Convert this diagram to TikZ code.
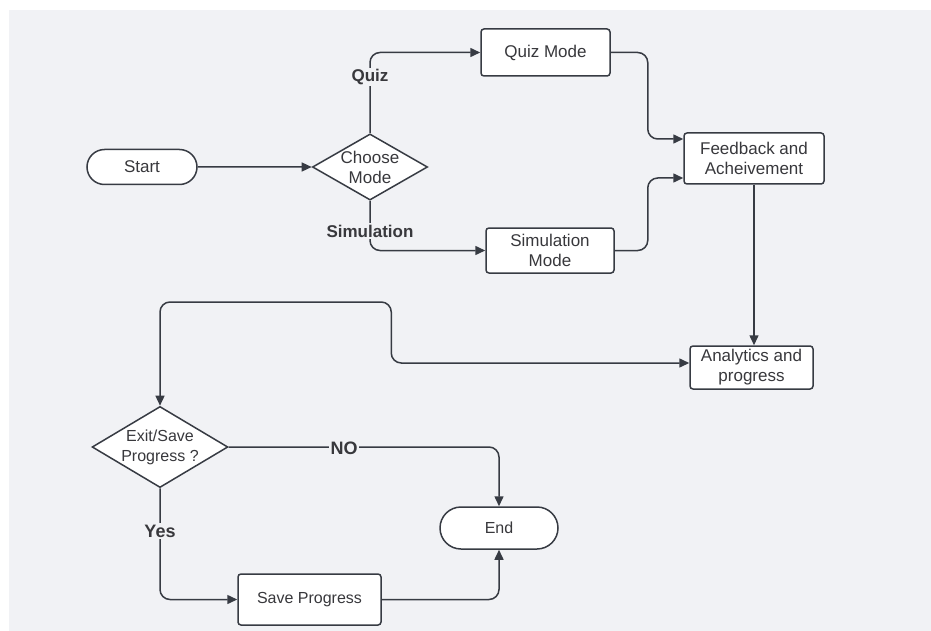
\documentclass[tikz,border=0pt]{standalone}
\usepackage{fontspec}
\setmainfont{Liberation Sans}
\usetikzlibrary{shapes.geometric,shapes.misc,arrows.meta}
\definecolor{bg}{RGB}{241,242,245}
\definecolor{ln}{RGB}{55,59,67}
\definecolor{tx}{RGB}{56,56,60}
\begin{document}
\begin{tikzpicture}[x=1pt,y=-1pt,
  base/.style={draw=ln, line width=1.5pt, fill=white, text=tx,
    font=\fontsize{17}{20}\selectfont, align=center, inner sep=0pt},
  box/.style={base, rectangle, rounded corners=3pt},
  term/.style={base, rounded rectangle},
  dec/.style={base, diamond},
  arr/.style={draw=ln, line width=1.5pt, -{Triangle[length=10pt,width=9pt]}, rounded corners=10pt},
  darr/.style={draw=ln, line width=1.5pt, {Triangle[length=10pt,width=9pt]}-{Triangle[length=10pt,width=9pt]}, rounded corners=10pt},
  lbl/.style={fill=bg, text=tx, font=\bfseries\fontsize{17}{20}\selectfont, inner sep=1.5pt}]
\fill[white] (0,0) rectangle (931,631);
\fill[bg] (9,10) rectangle (931,631);
\useasboundingbox (0,0) rectangle (931,631);

\node[term, minimum width=110, minimum height=35] (start) at (142,167) {Start};
\node[dec, minimum width=115, minimum height=66, aspect=1.74] (choose) at (370,167) {Choose\\Mode};
\node[box, minimum width=129, minimum height=47] (quiz) at (545.5,52.5) {Quiz Mode};
\node[box, minimum width=128, minimum height=45] (sim) at (550,250.5) {Simulation\\Mode};
\node[box, minimum width=140, minimum height=51] (fb) at (754,158.5) {Feedback and\\Acheivement};
\node[box, minimum width=123, minimum height=43] (an) at (751.5,367.5) {Analytics and\\progress};
\node[dec, minimum width=134, minimum height=80, aspect=1.675, font=\fontsize{16}{20}\selectfont] (exit) at (160,447) {Exit/Save\\Progress ?};
\node[term, minimum width=118, minimum height=42, font=\fontsize{16}{20}\selectfont] (end) at (499,528) {End};
\node[box, minimum width=143, minimum height=51, font=\fontsize{16}{20}\selectfont] (save) at (309.5,599.5) {Save Progress};

\draw[arr] (start) -- (choose);
\draw[arr] (choose.north) |- (quiz.west);
\draw[arr] (choose.south) |- (sim.west);
\draw[arr] (quiz.east) -- ++(37,0) |- ([yshift=19.5pt]fb.west);
\draw[arr] (sim.east) -- ++(33,0) |- ([yshift=-19.5pt]fb.west);
\draw[arr] (fb.south) -- (fb.south |- an.north);
\draw[darr] ([yshift=4.5pt]an.west) -- ++(-298,0) -- ++(0,-61) -| (exit.north);
\draw[arr] (exit.east) -| (end.north);
\draw[arr] (exit.south) |- (save.west);
\draw[arr] (save.east) -| (end.south);

\node[lbl] (lquiz) at (370,77) {Quiz};
\node[lbl] (lsim) at (370,231) {Simulation};
\node[lbl, font=\bfseries\fontsize{18}{20}\selectfont] (lno) at (344,448) {NO};
\node[lbl, font=\bfseries\fontsize{18}{20}\selectfont] (lyes) at (160,531) {Yes};
\end{tikzpicture}
\end{document}
